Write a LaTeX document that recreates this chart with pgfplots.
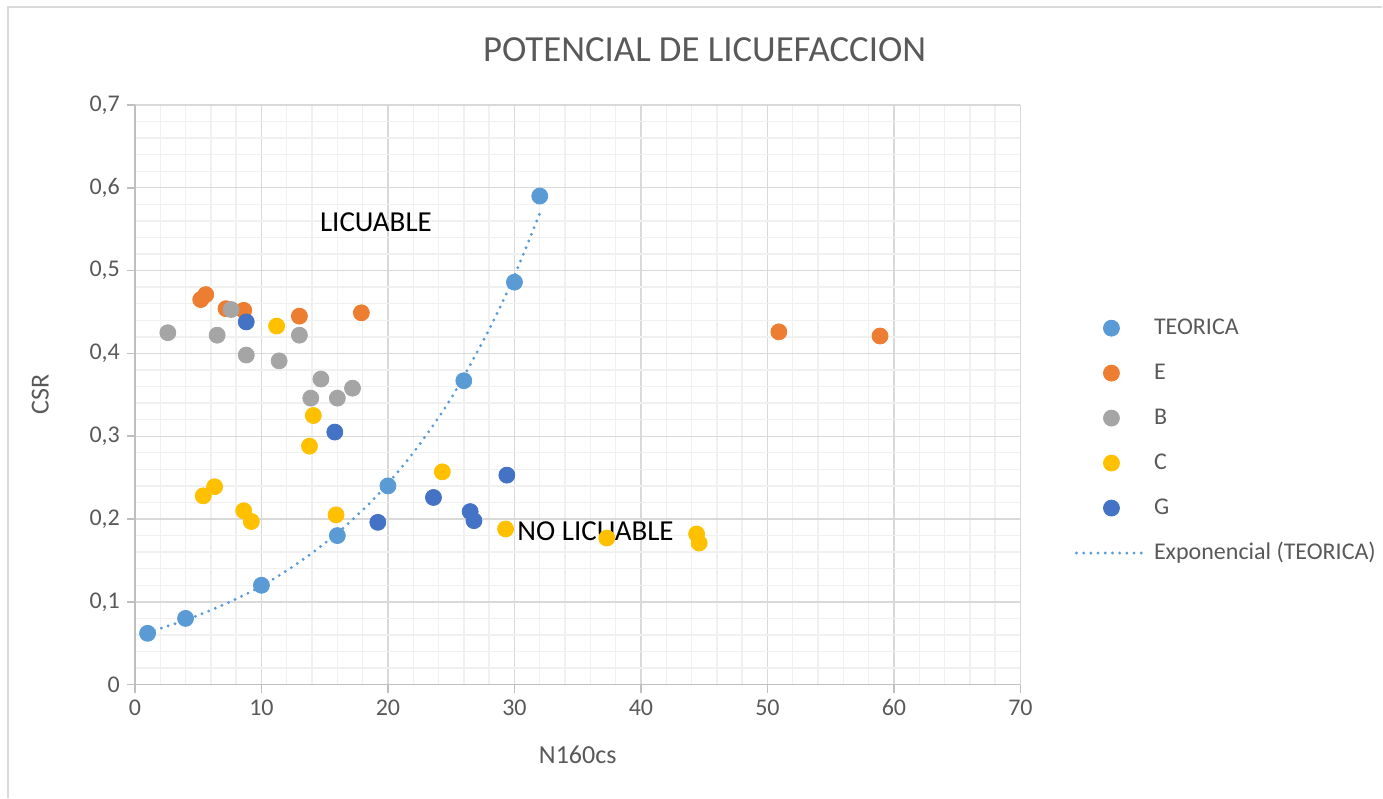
\documentclass[border=0pt]{standalone}
\usepackage{fontspec}
\setmainfont{Carlito}
\usepackage{pgfplots}
\pgfplotsset{compat=1.18}
\definecolor{teo}{HTML}{5B9BD5}
\definecolor{serE}{HTML}{ED7D31}
\definecolor{serB}{HTML}{A5A5A5}
\definecolor{serC}{HTML}{FFC000}
\definecolor{serG}{HTML}{4472C4}
\definecolor{txt}{HTML}{595959}
\definecolor{gmaj}{HTML}{D9D9D9}
\definecolor{gmin}{HTML}{F0F0F0}
\definecolor{axgray}{HTML}{BFBFBF}
\begin{document}
\begin{tikzpicture}
\begin{axis}[
    scale only axis,
    width=443pt, height=290pt,
    xmin=0, xmax=70, ymin=0, ymax=0.7,
    xtick={0,10,20,30,40,50,60,70},
    ytick={0,0.1,0.2,0.3,0.4,0.5,0.6,0.7},
    minor x tick num=4, minor y tick num=4,
    grid=both,
    major grid style={color=gmaj, line width=0.7pt},
    minor grid style={color=gmin, line width=0.7pt},
    axis x line*=bottom, axis y line*=left,
    axis line style={color=axgray, line width=0.8pt, -},
    tick style={color=axgray, line width=0.8pt},
    major tick length=4pt, minor tick length=0pt, tick align=outside,
    ticklabel style={font=\fontsize{12}{14}\selectfont, color=txt},
    /pgf/number format/.cd, use comma, fixed, assume math mode=true, /pgfplots/.cd,
    xlabel={N160cs}, ylabel={CSR},
    label style={font=\fontsize{13}{15}\selectfont, color=txt},
    xlabel style={at={(axis description cs:0.5,-0.121)}, anchor=center},
    ylabel style={at={(axis description cs:-0.107,0.5)}, anchor=center},
    legend image code/.code={\draw[#1, mark repeat=2, mark phase=2] plot coordinates {(0cm,0cm) (0.615cm,0cm) (1.23cm,0cm)};},
    legend cell align=left,
    legend style={at={(rel axis cs:1.061,0.421)}, anchor=west, draw=none, fill=none,
        inner sep=0pt, row sep=10.5pt,
        font=\fontsize{12}{14}\selectfont, text=txt,
        nodes={inner sep=0pt, text height=9pt, text depth=3pt},
        /tikz/every odd column/.style={column sep=3pt}},
]
\addplot[only marks, mark=*, mark size=4pt, mark options={draw=teo, fill=teo}] coordinates {
    (1,0.062) (4,0.080) (10,0.120) (16,0.180) (20,0.240) (26,0.367) (30,0.486) (32,0.590)
};
\addlegendentry{TEORICA}
\addplot[only marks, mark=*, mark size=4pt, mark options={draw=serE, fill=serE}] coordinates {
    (5.2,0.465) (5.6,0.471) (7.2,0.454) (8.6,0.452) (13.0,0.445) (17.9,0.449) (50.9,0.426) (58.9,0.421)
};
\addlegendentry{E}
\addplot[only marks, mark=*, mark size=4pt, mark options={draw=serB, fill=serB}] coordinates {
    (2.6,0.425) (6.5,0.422) (7.6,0.453) (8.8,0.398) (11.4,0.391) (13.0,0.422)
    (14.7,0.369) (13.9,0.346) (16.0,0.346) (17.2,0.358)
};
\addlegendentry{B}
\addplot[only marks, mark=*, mark size=4pt, mark options={draw=serC, fill=serC}] coordinates {
    (11.2,0.433) (14.1,0.325) (13.8,0.288) (6.3,0.239) (5.4,0.228) (8.6,0.210) (9.2,0.197)
    (15.9,0.205) (24.3,0.257) (29.3,0.188) (37.3,0.177) (44.4,0.182) (44.6,0.171)
};
\addlegendentry{C}
\addplot[only marks, mark=*, mark size=4pt, mark options={draw=serG, fill=serG}] coordinates {
    (8.8,0.438) (15.8,0.305) (19.2,0.196) (23.6,0.226) (29.4,0.253) (26.5,0.209) (26.8,0.198)
};
\addlegendentry{G}
\addplot[color=teo, line width=1.6pt, line cap=round, dash pattern=on 0pt off 3.6pt, smooth, no marks] coordinates {
    (1,0.063) (4,0.078) (7,0.0965) (10,0.119) (13,0.148) (16,0.183) (19,0.226)
    (22,0.280) (25,0.346) (28,0.429) (30,0.494) (32,0.569)
};
\addlegendentry{Exponencial (TEORICA)}
\node[anchor=west, inner sep=0pt, font=\fontsize{14.5}{17}\selectfont] at (axis cs:14.6,0.559) {LICUABLE};
\node[anchor=west, inner sep=0pt, font=\fontsize{14.5}{17}\selectfont] at (axis cs:30.2,0.185) {NO LICUABLE};
\end{axis}
\node[font=\fontsize{18.4}{22}\selectfont, color=txt] at (285pt,317.5pt) {POTENCIAL DE LICUEFACCION};
\draw[color=gmaj, line width=0.7pt] (-63.5pt,-56.5pt) -- (-63.5pt,339pt) -- (624pt,339pt);
\useasboundingbox (-67.5pt,-56.5pt) rectangle (624pt,342.5pt);
\end{tikzpicture}
\end{document}
